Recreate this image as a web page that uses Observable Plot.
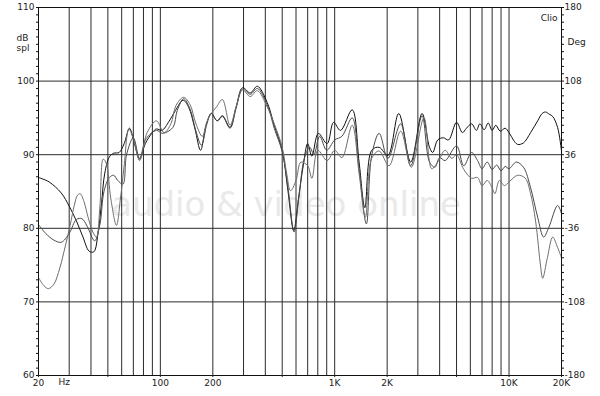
<!DOCTYPE html>
<html><head><meta charset="utf-8">
<script src="https://cdn.jsdelivr.net/npm/d3@7"></script>
<script src="https://cdn.jsdelivr.net/npm/@observablehq/plot@0.6"></script>
<style>html,body{margin:0;padding:0;background:#fff} svg{display:block}</style>
</head><body><div id="chart"></div>
<script>
// Frequency response curves: [frequency Hz, level dB SPL]
const curveA = [[20,86.9],[23,86.3],[27,84.8],[30,83],[33,81],[36,78.8],[39,76.9],[41.5,76.8],[44,79.5],[46,83.5],[48,87.5],[51,89.7],[54,90.2],[58,90.3],[62,91.5],[66.5,93.6],[71,91.5],[76,89.4],[82,91.5],[90,93],[95,93.5],[102,93.3],[112,94.5],[122,96],[135,97.4],[145,96.5],[158,93.5],[170,90.6],[183,94],[196,95.6],[212,94.6],[227,95.3],[251,93.7],[272,96.5],[296,99.1],[328,98.4],[360,99.3],[410,97.1],[450,94],[500,90.6],[540,85],[582,79.7],[620,84],[660,88.5],[700,91.5],[740,89.8],[806,92.9],[905,91.5],[985,94.4],[1080,93.3],[1260,96.1],[1380,89],[1490,82.8],[1630,90.6],[1800,91],[2020,89.9],[2330,95.6],[2730,89],[3170,95.6],[3500,91],[3650,90.3],[3900,92],[4200,92.3],[4500,92],[5000,94.4],[5400,93],[5700,93.6],[6100,94.2],[6500,93.3],[6800,94.2],[7200,93.4],[7600,94.3],[8000,93.3],[8400,94],[8900,93.2],[9500,93.6],[10000,93],[10600,92],[11200,91.4],[12100,91.6],[13300,93],[14600,94.6],[15500,95.6],[16200,95.8],[17000,95.5],[17800,95.2],[19000,93.7],[20000,90.5]];
const curveB = [[20,80.5],[22,79.3],[24.5,78.4],[27,78.1],[30,79.3],[33,81.2],[35.5,81.3],[38,80.3],[42,78.3],[45,80.5],[47.5,85],[51,86.9],[54,87.2],[57,86.5],[61,86],[64,90],[70,92.3],[76,89.5],[83,92.2],[95,93.3],[103,92.9],[118,93.7],[125,96],[136,97.6],[148,96.2],[160,93.2],[172,91.3],[185,94.2],[196,95.6],[212,94.6],[227,95.2],[251,93.6],[272,96.3],[296,98.9],[328,98.2],[360,99],[410,96.8],[450,93.6],[500,90.4],[540,85.5],[585,79.5],[625,84.5],[670,89.5],[720,91],[760,90],[820,92.5],[900,90.6],[1000,92],[1100,92.5],[1260,95],[1380,88],[1520,80.6],[1630,89.9],[1800,92.9],[2020,89.5],[2390,94.2],[2730,88.5],[3170,95.3],[3500,89],[3760,88.3],[4000,89.6],[4300,89.2],[5000,91.2],[5500,88.5],[6100,90.3],[6600,89.2],[7000,88.1],[7500,89],[8000,88],[8500,88.6],[9000,87.8],[9500,88.4],[10000,88.1],[11000,89],[12100,88.3],[13300,85.5],[14600,81.5],[15800,78.8],[16900,80.1],[19000,83.1],[20000,82]];
const curveC = [[20,73.3],[21.5,72.2],[22.8,71.8],[24.5,72.4],[26.5,74.6],[28.5,77.6],[30.5,80.6],[32,83],[33.5,84.5],[34.7,84.7],[36.5,83.6],[38.5,81.5],[41,79.5],[43,78.8],[45,83],[47,89.4],[49,88.8],[52,84],[56,80.4],[59,84],[62,88.5],[66,93.5],[70,92.2],[76,89.2],[84,93],[95,94.6],[105,93],[115,94.2],[123,96.7],[136,97.8],[148,96.8],[160,94.2],[174,92.5],[185,94.5],[196,95.6],[210,96.5],[227,97.5],[251,94],[272,96.5],[296,98.8],[328,97.9],[360,98.7],[410,96.5],[450,94.2],[500,91],[530,87.5],[558,85.1],[600,86.5],[640,89],[700,88.5],[740,86.8],[800,90.6],[905,89.2],[1000,90.6],[1100,89.6],[1260,94],[1380,87.5],[1500,81.5],[1630,89.5],[1800,90.5],[2050,88.5],[2390,93.2],[2750,88.3],[3250,95],[3600,88.1],[3900,89],[4300,90.6],[4700,89.5],[5000,90],[5500,88],[6100,86.8],[6600,86.9],[7000,85.8],[7500,86.5],[8000,85.5],[8300,84.7],[8800,86.5],[9400,85.8],[10000,86.3],[11200,87.2],[12400,86.8],[13300,84.7],[14200,81],[15200,74.7],[15600,73.2],[16600,76],[17800,78.8],[19000,77.4],[20000,76]];

const seriesNames = ["A", "B", "C"];
const gridFreqs = [30,40,50,60,70,80,90,100,200,300,400,500,600,700,800,900,1000,2000,3000,4000,5000,6000,7000,8000,9000,10000];
const gridDb = [70, 80, 90, 100];
const xTicks = [20, 50, 100, 200, 500, 1000, 2000, 5000, 10000, 20000];
const xTickLabels = ["20", "50", "100", "200", "500", "1K", "2K", "5K", "10K", "20K"];
const yTicks = [60, 70, 80, 90, 100, 110];
const degLabels = ["-180", "-108", "-36", "36", "108", "180"];
const minorY = d3.range(60, 111, 1);

const rows = [];
[curveA, curveB, curveC].forEach((c, k) => c.forEach(([f, db]) => rows.push({f, db, s: seriesNames[k]})));

const plot = Plot.plot({
  width: 600, height: 396,
  marginLeft: 38, marginRight: 39, marginTop: 7, marginBottom: 21,
  style: {fontFamily: "DejaVu Sans", fontSize: "9px", color: "#222", background: "#fff", overflow: "visible"},
  x: {type: "log", domain: [20, 20000], axis: null, label: null},
  y: {domain: [60, 110], axis: null, label: null},
  color: {domain: seriesNames, range: ["#111111", "#4a4a4a", "#6e6e6e"]},
  marks: [
    Plot.text(["audio & video online"], {frameAnchor: "middle", dx: -14, dy: 14, fontSize: 34, fill: "#e9e9e9", fontFamily: "DejaVu Sans"}),
    Plot.ruleX(gridFreqs, {stroke: "#2a2a2a", strokeWidth: 1}),
    Plot.ruleY(gridDb, {stroke: "#2a2a2a", strokeWidth: 1}),
    Plot.line(rows, {x: "f", y: "db", z: "s", stroke: "s", curve: "catmull-rom", strokeWidth: 1}),
    Plot.frame({stroke: "#111"}),
    Plot.axisY({ticks: minorY, anchor: "left", tickSize: 2, tickFormat: () => "", label: null, stroke: "#111"}),
    Plot.axisY({ticks: minorY, anchor: "right", tickSize: 2, tickFormat: () => "", label: null, stroke: "#111"}),
    Plot.axisY({ticks: yTicks, anchor: "left", tickSize: 0, tickPadding: 4, label: null}),
    Plot.axisY({ticks: yTicks, anchor: "right", tickSize: 0, tickPadding: 3, label: null, tickFormat: d => degLabels[yTicks.indexOf(d)]}),
    Plot.axisX({ticks: xTicks, anchor: "bottom", tickSize: 2, tickPadding: 2, label: null, tickFormat: d => xTickLabels[xTicks.indexOf(d)]}),
    Plot.text(["Hz"], {frameAnchor: "bottom-left", dx: 20, dy: 9, textAnchor: "start"}),
    Plot.text(["dB\nspl"], {frameAnchor: "top-left", dx: -22, dy: 26, textAnchor: "start", lineHeight: 1.15}),
    Plot.text(["Deg"], {frameAnchor: "top-right", dx: 6, dy: 31, textAnchor: "start"}),
    Plot.text(["Clio"], {frameAnchor: "top-right", dx: -4, dy: 7, textAnchor: "end"})
  ]
});
document.getElementById("chart").appendChild(plot);
</script>
</body></html>
